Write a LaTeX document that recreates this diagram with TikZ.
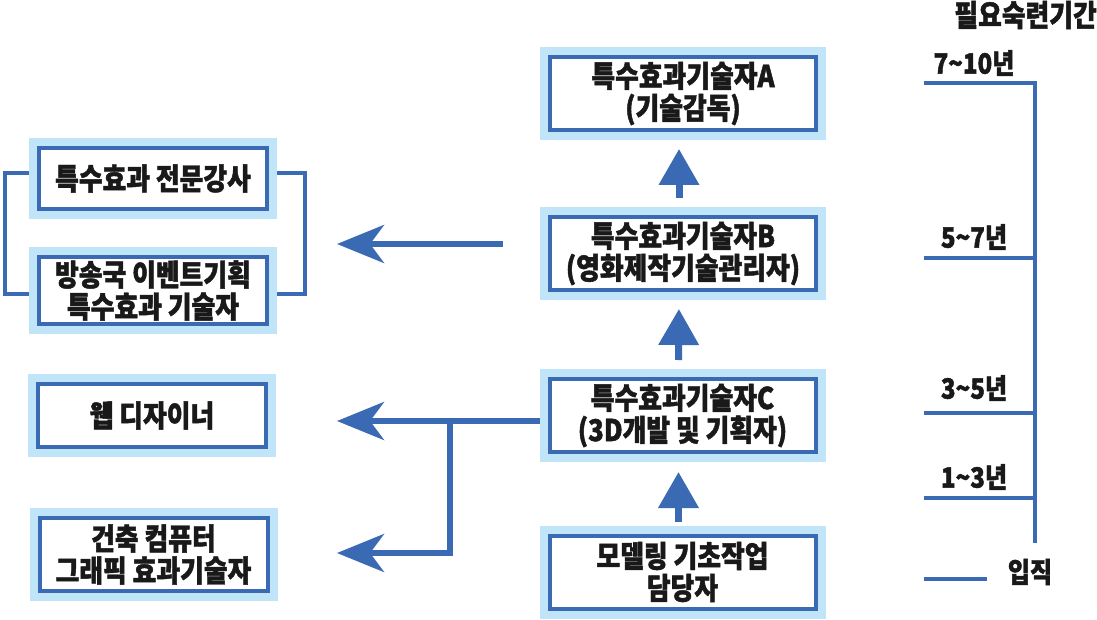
\documentclass[tikz,border=0pt]{standalone}
\usepackage{fontspec}
\setmainfont{Noto Sans CJK KR}[BoldFeatures={FakeBold=1.5,FakeStretch=0.86}]
\usetikzlibrary{arrows.meta}
\definecolor{lineblue}{RGB}{58,106,180}
\definecolor{bandblue}{RGB}{192,228,248}
\definecolor{inkk}{RGB}{25,25,25}
\pgfdeclarelayer{back}
\pgfdeclarelayer{bg}
\pgfsetlayers{back,bg,main}
\begin{document}
\begin{tikzpicture}[x=1pt,y=-1pt,
  box/.style={draw=lineblue, line width=4pt, fill=white, line join=miter,
    align=center, inner sep=0pt, text=inkk,
    font=\bfseries\fontsize{30}{32}\selectfont,
    preaction={draw=bandblue, line width=20pt, line join=miter}},
  cbox/.style={box, minimum width=266pt, minimum height=73pt},
  lbox/.style={box, minimum width=228pt},
  uparrow/.style={draw=lineblue, line width=7pt, -{Triangle[length=36pt,width=39pt]}},
  leftarrow/.style={draw=lineblue, line width=6pt, line join=miter, -{Stealth[length=47pt,width=38pt,inset=14pt]}},
  bracket/.style={draw=lineblue, line width=4pt, line join=miter},
  tl/.style={draw=lineblue, line width=4pt, line join=miter},
  lbl/.style={font=\bfseries\fontsize{28}{30}\selectfont, text=inkk, inner sep=0pt}
]
\useasboundingbox (0,0) rectangle (1097,620);
\begin{pgfonlayer}{back}
\fill[white] (0,0) rectangle (1097,620);
\end{pgfonlayer}

% centre column
\node[cbox] (A) at (683,93.5) {특수효과기술자A\\(기술감독)};
\node[cbox] (B) at (683,253.5) {특수효과기술자B\\(영화제작기술관리자)};
\node[cbox] (C) at (682.5,415.5) {특수효과기술자C\\(3D개발 및 기획자)};
\node[cbox] (D) at (682.5,572) {모델링 기초작업\\담당자};

% left column
\node[lbox, minimum height=61pt] (L1) at (153,178.5) {특수효과 전문강사};
\node[lbox, minimum height=67pt] (L2) at (153,290.5) {방송국 이벤트기획\\특수효과 기술자};
\node[lbox, minimum height=63pt] (L3) at (152,415.5) {웹 디자이너};
\node[lbox, minimum height=73pt] (L4) at (153.5,554.5) {건축 컴퓨터\\그래픽 효과기술자};

\coordinate (tB) at (337,244);
\coordinate (tC) at (337,421);
\coordinate (tD) at (337,553);
\coordinate (j) at (450,421);

\begin{pgfonlayer}{bg}
  \draw[uparrow, shorten <=17pt, shorten >=17pt] ([xshift=-4pt]B.north) -- ([xshift=-4pt]A.south);
  \draw[uparrow, shorten <=17pt, shorten >=17pt] ([xshift=-4pt]C.north) -- ([xshift=-4pt]B.south);
  \draw[uparrow, shorten <=12pt, shorten >=18pt] ([xshift=-4pt]D.north) -- ([xshift=-4pt]C.south);
  \draw[leftarrow, shorten <=45pt] ([yshift=9.5pt]B.west) -- (tB);
  \draw[leftarrow] ([yshift=-5.5pt]C.west) -- (tC);
  \draw[leftarrow] (j) |- (tD);
  \draw[bracket] ([yshift=5.5pt]L1.west) -| (5,294) -- ([yshift=-3.5pt]L2.west);
  \draw[bracket] ([yshift=5.5pt]L1.east) -| (305,294) -- ([yshift=-3.5pt]L2.east);
\end{pgfonlayer}

% timeline
\node[lbl, anchor=east, font=\bfseries\fontsize{30}{30}\selectfont] (title) at (1097,15) {필요숙련기간};
\node[lbl] (y1) at (974,63) {7\textasciitilde 10년};
\node[lbl] (y2) at (974,237) {5\textasciitilde 7년};
\node[lbl] (y3) at (974,388) {3\textasciitilde 5년};
\node[lbl] (y4) at (974,477) {1\textasciitilde 3년};
\node[lbl] (y0) at (1030,572) {입직};
\draw[tl] (924,83) -- (1035,83) -- (1035,543);
\draw[tl] (924,258) -- (1035,258);
\draw[tl] (924,413) -- (1035,413);
\draw[tl] (924,498) -- (1035,498);
\draw[tl] (924,579) -- (987,579);
\end{tikzpicture}
\end{document}
